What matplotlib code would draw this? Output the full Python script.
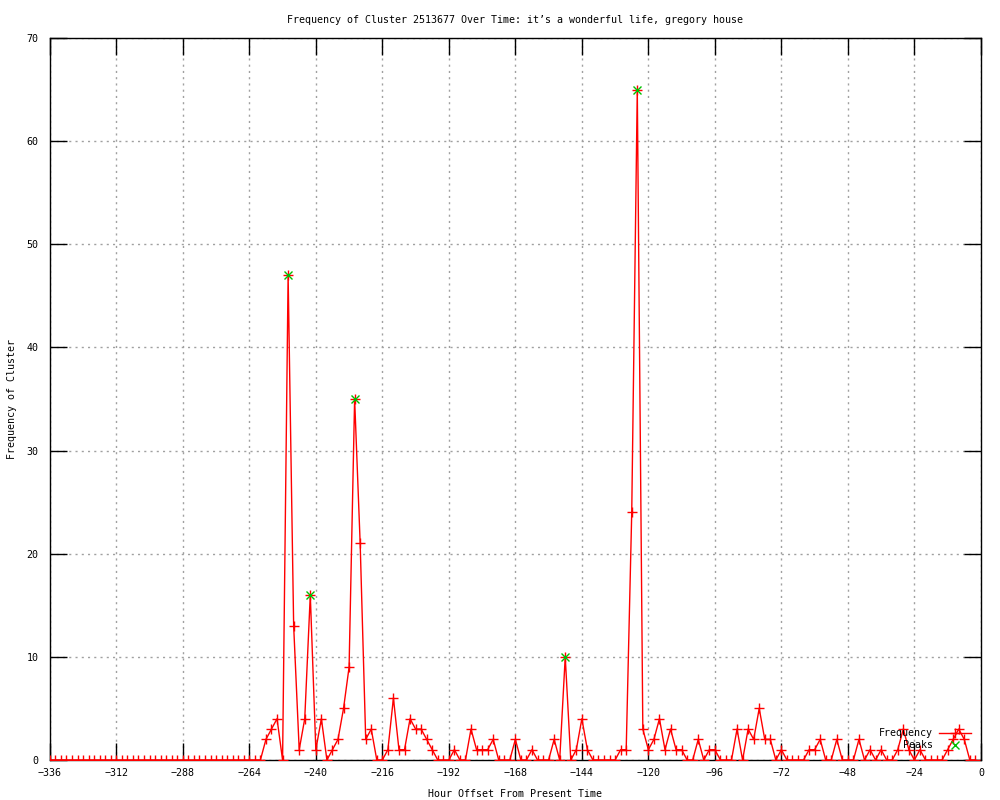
"""Frequency of one cluster over time, gnuplot-style line chart."""
import numpy as np
import matplotlib.pyplot as plt

# Hour offsets, one point every 2 hours
hours = list(range(-336, 0, 2))

# Frequency values (-336 .. -2)
freq = [0] * 39 + [
    2, 3, 4, 0, 47, 13, 1, 4, 16, 1,          # -258 .. -240
    4, 0, 1, 2, 5, 9, 35, 21, 2, 3,           # -238 .. -220
    0, 0, 1, 6, 1, 1, 4, 3, 3, 2,             # -218 .. -200
    1, 0, 0, 0, 1, 0, 0, 3, 1, 1,             # -198 .. -180
    1, 2, 0, 0, 0, 2, 0, 0, 1, 0,             # -178 .. -160
    0, 0, 2, 0, 10, 0, 1, 4, 1, 0,            # -158 .. -140
    0, 0, 0, 0, 1, 1, 24, 65, 3, 1,           # -138 .. -120
    2, 4, 1, 3, 1, 1, 0, 0, 2, 0,             # -118 .. -100
    1, 1, 0, 0, 0, 3, 0, 3, 2, 5,             # -98 .. -80
    2, 2, 0, 1, 0, 0, 0, 0, 1, 1,             # -78 .. -60
    2, 0, 0, 2, 0, 0, 0, 2, 0, 1,             # -58 .. -40
    0, 1, 0, 0, 1, 3, 1, 0, 1, 0,             # -38 .. -20
    0, 0, 0, 1, 2, 3, 2, 0, 0,                # -18 .. -2
]

peak_hours = [-250, -242, -226, -150, -124]
peak_vals = [47, 16, 35, 10, 65]

title = "Frequency of Cluster 2513677 Over Time: it\u2019s a wonderful life, gregory house"
xticks = list(range(-336, 1, 24))
yticks = list(range(0, 71, 10))

plt.rcParams['font.family'] = ['DejaVu Sans Mono']
fs = 7.2

fig = plt.figure(figsize=(10, 8), dpi=100)
ax = fig.add_axes([0.0498, 0.05, 0.9311, 0.9025])

ax.plot(hours, freq, color='red', linewidth=1.0, marker='+', markersize=7,
        markeredgewidth=1.0, label='Frequency', zorder=3)
ax.plot(peak_hours, peak_vals, linestyle='none', color='#00c000', marker='x',
        markersize=6, markeredgewidth=1.0, label='Peaks', zorder=4)

ax.set_xlim(-336, 0)
ax.set_ylim(0, 70)
ax.set_xticks(xticks)
ax.set_yticks(yticks)
ax.tick_params(direction='in', length=12, width=1, top=True, right=True,
               labelsize=fs, pad=6)
ax.tick_params(axis='y', pad=8)
ax.grid(True, color='#a0a0a0', linestyle=(0, (1.5, 3)), linewidth=1)
ax.set_axisbelow(True)
for s in ax.spines.values():
    s.set_linewidth(1)

ax.set_xlabel("Hour Offset From Present Time", fontsize=fs, labelpad=8)
ax.set_ylabel("Frequency of Cluster", fontsize=fs, labelpad=7)
ax.set_title(title, fontsize=fs, pad=11)

leg = ax.legend(loc='lower right', frameon=False, fontsize=fs, markerfirst=False,
                handlelength=3.2, borderaxespad=0.6, labelspacing=0.2,
                handletextpad=0.6)
for t in leg.get_texts():
    t.set_ha('right')

fig.savefig("out.png", dpi=100)
